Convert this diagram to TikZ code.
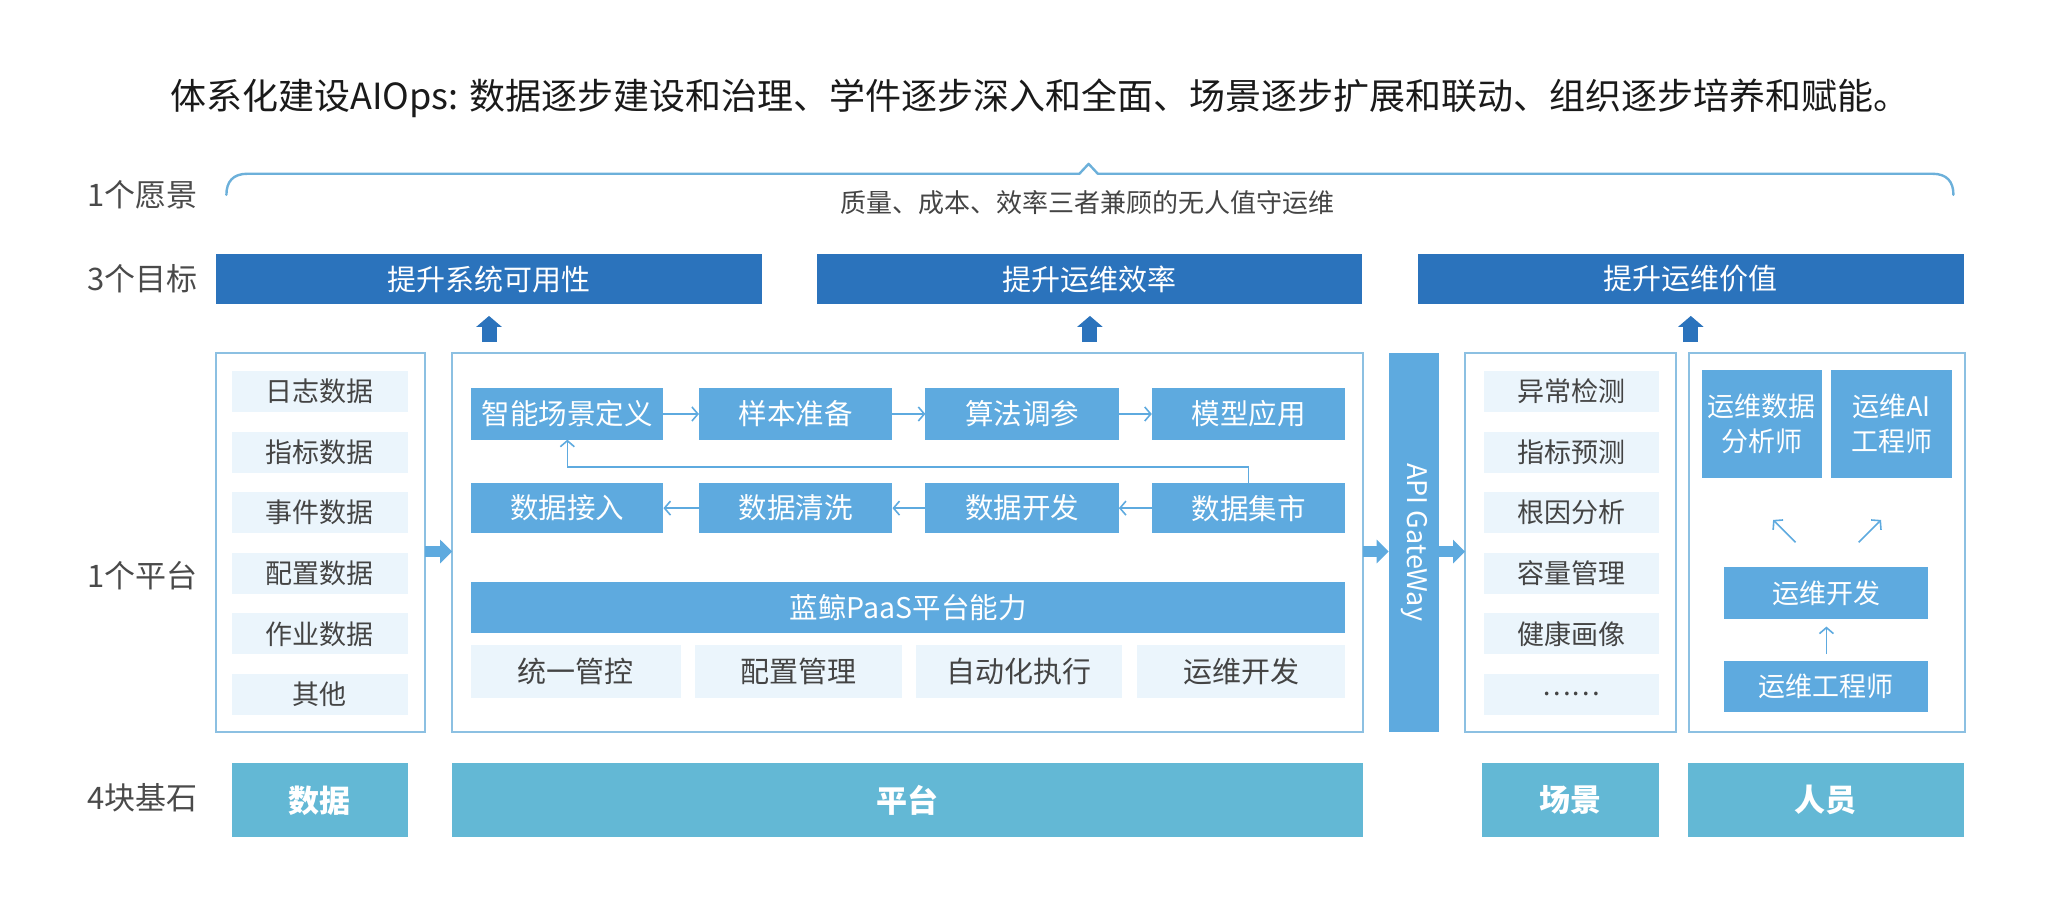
\documentclass[tikz,border=0pt]{standalone}
\usepackage{fontspec}
\setmainfont{Noto Sans CJK SC}
\usetikzlibrary{arrows.meta}
\definecolor{goalblue}{HTML}{2B73BC}
\definecolor{midblue}{HTML}{5EAADF}
\definecolor{lightfill}{HTML}{EBF5FC}
\definecolor{framecol}{HTML}{8CC0E2}
\definecolor{basecol}{HTML}{63B8D5}
\definecolor{textgrey}{HTML}{444444}
\definecolor{labgrey}{HTML}{4A4A4A}
\definecolor{titlecol}{HTML}{1A1A1A}
\definecolor{bracecol}{HTML}{6CB0DA}
\newcommand\bx[7]{\node[#6,minimum width={(#4-#2)*1.3163pt},minimum height={(#5-#3)*1.3163pt}] (#1) at ({(#2+#4)/2},{(#3+#5)/2}) {#7};}
\begin{document}
\begin{tikzpicture}[x=1.3163pt,y=-1.3163pt,
  every node/.style={inner sep=0pt,outer sep=0pt},
  lbl/.style={text=labgrey,font=\fontsize{31}{36}\selectfont},
  goal/.style={fill=goalblue,text=white,font=\fontsize{29}{34}\selectfont},
  frame/.style={draw=framecol,line width=1.6pt},
  item/.style={fill=lightfill,text=textgrey,font=\fontsize{27}{32}\selectfont},
  blk/.style={fill=midblue,text=white,font=\fontsize{28.5}{33}\selectfont},
  pblk/.style={fill=midblue,text=white,align=center,font=\fontsize{27}{35}\selectfont},
  pitem/.style={fill=lightfill,text=textgrey,font=\fontsize{29}{34}\selectfont},
  base/.style={fill=basecol,text=white,font=\fontsize{31}{36}\selectfont\bfseries},
  thinarrow/.style={draw=midblue,line width=1.6pt,-{Straight Barb[length=6pt,width=14pt]}},
  uparrow/.style={draw=goalblue,line width=15pt,-{Triangle[length=11pt,width=25pt]},shorten <=8*1.3163pt,shorten >=9*1.3163pt},
  sidearrow/.style={draw=midblue,line width=11pt,-{Triangle[length=12pt,width=23pt]}},
  brace/.style={draw=bracecol,line width=2.4pt,line cap=round,line join=round}]
\useasboundingbox (0,0) rectangle (1568,693.6);

% title
\node[text=titlecol,font=\fontsize{36}{40}\selectfont] (title) at (790,75) {体系化建设AIOps: 数据逐步建设和治理、学件逐步深入和全面、场景逐步扩展和联动、组织逐步培养和赋能。};

% row labels
\node[lbl] (l1) at (108,148) {1个愿景};
\node[lbl] (l2) at (108,212) {3个目标};
\node[lbl] (l3) at (108,437) {1个平台};
\node[lbl] (l4) at (108,606) {4块基石};

% vision brace
\draw[brace] (172,148) .. controls (172,138) and (177,132) .. (188,132) -- (820,132) -- (827,124.5) -- (834,132) -- (1468,132) .. controls (1479,132) and (1484,138) .. (1484,148);
\node[text=textgrey,font=\fontsize{26}{30}\selectfont] (vision) at (826,154) {质量、成本、效率三者兼顾的无人值守运维};

% goals
\bx{g1}{164}{193}{579}{231}{goal}{提升系统可用性}
\bx{g2}{621}{193}{1035}{231}{goal}{提升运维效率}
\bx{g3}{1077}{193}{1492}{231}{goal}{提升运维价值}

% frames
\bx{databox}{164}{268}{323}{556}{frame}{}
\bx{plat}{343.5}{268}{1035.5}{556}{frame}{}
\bx{gw}{1055}{268}{1093.5}{556}{fill=midblue}{}
\node[rotate=-90,text=white,font=\fontsize{27}{30}\selectfont] (gwtext) at (gw.center) {API GateWay};
\bx{scenebox}{1113}{268}{1273}{556}{frame}{}
\bx{peoplebox}{1283}{268}{1493}{556}{frame}{}

% up arrows
\draw[uparrow] (g1.south |- plat.north) -- (g1.south);
\draw[uparrow] (g2.south |- plat.north) -- (g2.south);
\draw[uparrow] (g3.south |- plat.north) -- (g3.south);

% data items
\bx{d1}{176}{282}{310}{313}{item}{日志数据}
\bx{d2}{176}{328}{310}{359}{item}{指标数据}
\bx{d3}{176}{374}{310}{405}{item}{事件数据}
\bx{d4}{176}{420}{310}{451}{item}{配置数据}
\bx{d5}{176}{466}{310}{497}{item}{作业数据}
\bx{d6}{176}{512}{310}{543}{item}{其他}

% platform inner blocks
\bx{sdef}{358}{295}{504}{334}{blk}{智能场景定义}
\bx{samp}{531}{295}{678}{334}{blk}{样本准备}
\bx{algo}{703}{295}{850}{334}{blk}{算法调参}
\bx{model}{875}{295}{1022}{334}{blk}{模型应用}
\bx{ingest}{358}{367}{504}{405}{blk}{数据接入}
\bx{clean}{531}{367}{678}{405}{blk}{数据清洗}
\bx{dev}{703}{367}{850}{405}{blk}{数据开发}
\bx{mart}{875}{367}{1022}{405}{blk}{数据集市}
\bx{paas}{358}{442}{1022}{481}{blk}{蓝鲸PaaS平台能力}
\bx{p1}{358}{490}{517}{530}{pitem}{统一管控}
\bx{p2}{528}{490}{685}{530}{pitem}{配置管理}
\bx{p3}{696}{490}{852}{530}{pitem}{自动化执行}
\bx{p4}{864}{490}{1022}{530}{pitem}{运维开发}

\draw[thinarrow] (sdef.east) -- (samp.west);
\draw[thinarrow] (samp.east) -- (algo.west);
\draw[thinarrow] (algo.east) -- (model.west);
\draw[thinarrow] (mart.west) -- (dev.east);
\draw[thinarrow] (dev.west) -- (clean.east);
\draw[thinarrow] (clean.west) -- (ingest.east);
\draw[thinarrow] (mart.north) -- ++(0,-12) -| (sdef.south);

% scene items
\bx{s1}{1127}{282}{1260}{313}{item}{异常检测}
\bx{s2}{1127}{328}{1260}{359}{item}{指标预测}
\bx{s3}{1127}{374}{1260}{405}{item}{根因分析}
\bx{s4}{1127}{420}{1260}{451}{item}{容量管理}
\bx{s5}{1127}{466}{1260}{497}{item}{健康画像}
\bx{s6}{1127}{512}{1260}{543}{item}{……}

% people
\bx{ana}{1293}{281}{1384}{363}{pblk}{运维数据\\分析师}
\bx{aieng}{1391}{281}{1483}{363}{pblk}{运维AI\\工程师}
\bx{opsdev}{1310}{431}{1465}{470}{pblk}{运维开发}
\bx{opseng}{1310}{502}{1465}{541}{pblk}{运维工程师}
\coordinate (nwa) at (1364,412);
\coordinate (nwb) at (1347,395);
\coordinate (nea) at (1412,412);
\coordinate (neb) at (1429,395);
\draw[thinarrow] (nwa) -- (nwb);
\draw[thinarrow] (nea) -- (neb);
\draw[thinarrow,shorten <=5*1.3163pt,shorten >=6*1.3163pt] (opseng.north) -- (opsdev.south);

% side block arrows
\draw[sidearrow] (databox.east |- 0,419) -- (plat.west |- 0,419);
\draw[sidearrow] (plat.east |- 0,419) -- (gw.west |- 0,419);
\draw[sidearrow] (gw.east |- 0,419) -- (scenebox.west |- 0,419);

% foundations
\bx{b1}{176}{580}{310}{636}{base}{数据}
\bx{b2}{343.5}{580}{1035.5}{636}{base}{平台}
\bx{b3}{1126}{580}{1260}{636}{base}{场景}
\bx{b4}{1282}{580}{1492}{636}{base}{人员}
\end{tikzpicture}
\end{document}
